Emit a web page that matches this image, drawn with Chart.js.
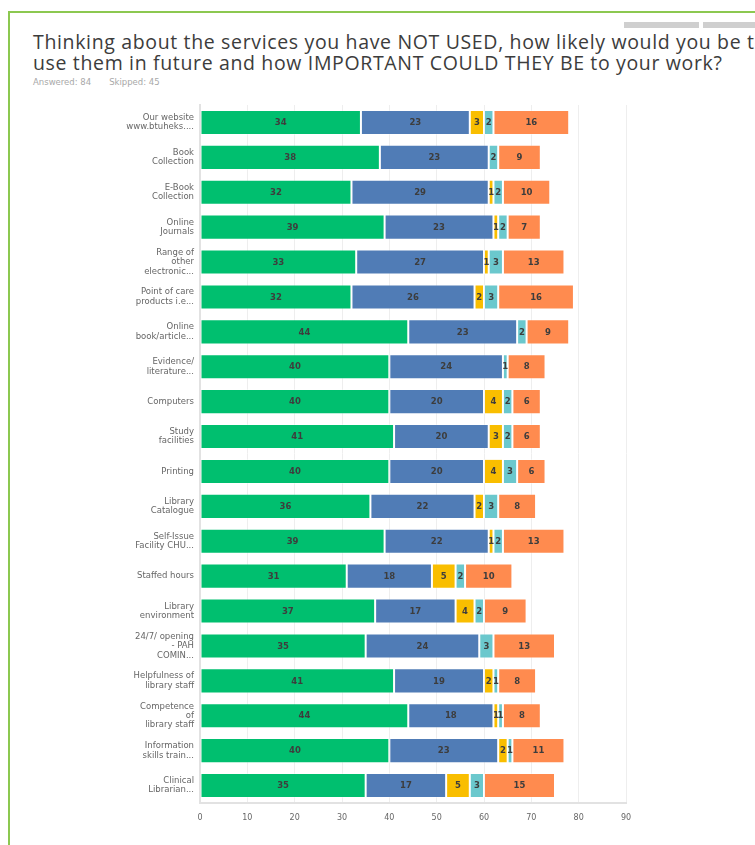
<!DOCTYPE html>
<html>
<head>
<meta charset="utf-8">
<script src="https://cdn.jsdelivr.net/npm/chart.js@4"></script>
<style>
  html, body { margin:0; padding:0; width:755px; height:845px; overflow:hidden; background:#fff; }
  #frameTop { position:absolute; left:8px; top:11px; width:747px; height:2px; background:#8cc850; }
  #frameLeft { position:absolute; left:8px; top:11px; width:2px; height:834px; background:#8cc850; }
  .gbar { position:absolute; top:22px; height:6px; background:#cfcfcf; }
  .title { position:absolute; left:33px; font-family:"Open Sans", Roboto, sans-serif; font-size:19.5px; letter-spacing:0.65px; color:#3c3c3c; white-space:nowrap; line-height:21px; }
  #meta { position:absolute; left:33px; top:77px; font-family:"DejaVu Sans", sans-serif; font-size:8.5px; color:#a8a8a8; white-space:nowrap; }
  #wrap { position:absolute; left:0; top:0; width:755px; height:845px; }
</style>
</head>
<body>
<div id="frameTop"></div>
<div id="frameLeft"></div>
<div class="gbar" style="left:624px;width:75px"></div>
<div class="gbar" style="left:703px;width:52px"></div>
<div class="title" style="top:31px">Thinking about the services you have NOT USED, how likely would you be to</div>
<div class="title" style="top:52px">use them in future and how IMPORTANT COULD THEY BE to your work?</div>
<div id="meta">Answered: 84<span style="display:inline-block;width:18px"></span>Skipped: 45</div>
<div id="wrap"><canvas id="c" width="755" height="845"></canvas></div>
<script>
const categories = [
  ["Our website","www.btuheks...."],
  ["Book","Collection"],
  ["E-Book","Collection"],
  ["Online","Journals"],
  ["Range of","other","electronic..."],
  ["Point of care","products i.e..."],
  ["Online","book/article..."],
  ["Evidence/","literature..."],
  "Computers",
  ["Study","facilities"],
  "Printing",
  ["Library","Catalogue"],
  ["Self-Issue","Facility CHU..."],
  "Staffed hours",
  ["Library","environment"],
  ["24/7/ opening","- PAH","COMIN..."],
  ["Helpfulness of","library staff"],
  ["Competence","of","library staff"],
  ["Information","skills train..."],
  ["Clinical","Librarian..."]
];
const series1 = [34,38,32,39,33,32,44,40,40,41,40,36,39,31,37,35,41,44,40,35];
const series2 = [23,23,29,23,27,26,23,24,20,20,20,22,22,18,17,24,19,18,23,17];
const series3 = [3,0,1,1,1,2,0,0,4,3,4,2,1,5,4,0,2,1,2,5];
const series4 = [2,2,2,2,3,3,2,1,2,2,3,3,2,2,2,3,1,1,1,3];
const series5 = [16,9,10,7,13,16,9,8,6,6,6,8,13,10,9,13,8,8,11,15];
const xTicks = [0,10,20,30,40,50,60,70,80,90];

const colors = ["#00bf6f","#507cb6","#f9be00","#6bc8cd","#ff8b4f"];
const seriesList = [series1, series2, series3, series4, series5];

const labelPlugin = {
  id: 'segLabels',
  afterDatasetsDraw(chart) {
    const ctx = chart.ctx;
    ctx.save();
    ctx.font = 'bold 8.5px "DejaVu Sans", sans-serif';
    ctx.fillStyle = '#3d3d3d';
    ctx.textAlign = 'center';
    ctx.textBaseline = 'middle';
    chart.data.datasets.forEach((ds, di) => {
      const meta = chart.getDatasetMeta(di);
      meta.data.forEach((el, i) => {
        const v = ds.data[i];
        if (!v) return;
        const cx = (el.x + el.base) / 2;
        ctx.fillText(String(v), cx, el.y + 0.5);
      });
    });
    ctx.restore();
  }
};

new Chart(document.getElementById('c'), {
  type: 'bar',
  data: {
    labels: categories,
    datasets: seriesList.map((s, i) => ({
      label: 'Series ' + (i + 1),
      data: s,
      backgroundColor: colors[i],
      borderColor: 'rgba(255,255,255,0.35)',
      borderWidth: 1,
      borderSkipped: false,
      barPercentage: 0.72,
      categoryPercentage: 1.0
    }))
  },
  options: {
    indexAxis: 'y',
    responsive: false,
    animation: false,
    layout: { padding: { top: 105, right: 129, bottom: 0, left: 0 } },
    plugins: { legend: { display: false }, tooltip: { enabled: false } },
    scales: {
      x: {
        stacked: true,
        min: 0, max: 90,
        afterBuildTicks(scale) { scale.ticks = xTicks.map(v => ({ value: v })); },
        afterFit(scale) { scale.height = 42; },
        grid: { color: '#eeeeee', lineWidth: 1, drawTicks: false },
        border: { color: '#e2e2e2', width: 2 },
        ticks: { padding: 10, color: '#666', font: { family: '"DejaVu Sans", sans-serif', size: 8 } }
      },
      y: {
        stacked: true,
        afterFit(scale) { scale.width = 200; },
        grid: { display: false, drawTicks: false },
        border: { color: '#e2e2e2', width: 2 },
        ticks: { padding: 6, color: '#666', font: { family: '"DejaVu Sans", sans-serif', size: 8.5, lineHeight: 1.1 } }
      }
    }
  },
  plugins: [labelPlugin]
});
</script>
</body>
</html>
